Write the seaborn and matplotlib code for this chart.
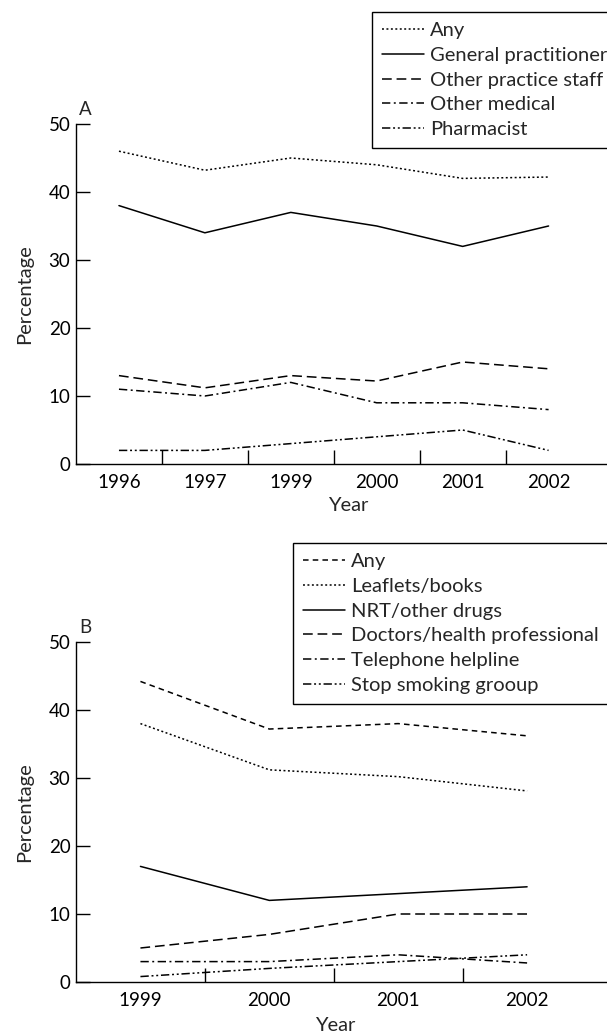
import numpy as np
import pandas as pd
import matplotlib
matplotlib.use("Agg")
import matplotlib.pyplot as plt
import seaborn as sns

# ==========================================
# DATA
# ==========================================
years_a = ["1996", "1997", "1999", "2000", "2001", "2002"]
any_a = [46, 43.2, 45, 44, 42, 42.2]
gp_a = [38, 34, 37, 35, 32, 35]
practice_staff_a = [13, 11.2, 13, 12.2, 15, 14]
other_medical_a = [11, 10, 12, 9, 9, 8]
pharmacist_a = [2, 2, 3, 4, 5, 2]

years_b = ["1999", "2000", "2001", "2002"]
any_b = [44.2, 37.2, 38, 36.2]
leaflets_b = [38, 31.2, 30.2, 28.1]
nrt_b = [17, 12, 13, 14]
doctors_b = [5, 7, 10, 10]
telephone_b = [3, 3, 4, 2.8]
group_b = [0.8, 2, 3, 4]

series_a = {
    "Any": any_a,
    "General practitioner": gp_a,
    "Other practice staff": practice_staff_a,
    "Other medical": other_medical_a,
    "Pharmacist": pharmacist_a,
}
series_b = {
    "Any": any_b,
    "Leaflets/books": leaflets_b,
    "NRT/other drugs": nrt_b,
    "Doctors/health professional": doctors_b,
    "Telephone helpline": telephone_b,
    "Stop smoking grooup": group_b,
}

# dash patterns (points, unscaled)
DOT = (1.4, 1.8)
SOLID = ""
LONG = (7, 3.5)
SHORT = (4, 3)
DASHDOT = (6, 2.5, 1.4, 2.5)
DASHDOTDOT = (6, 2, 1.4, 2, 1.4, 2)

dashes_a = [DOT, SOLID, LONG, DASHDOT, DASHDOTDOT]
dashes_b = [SHORT, DOT, SOLID, LONG, DASHDOT, DASHDOTDOT]

W, H = 607, 1034


def to_long(years, series):
    frames = [pd.DataFrame({"year": years, "value": v, "source": k}) for k, v in series.items()]
    return pd.concat(frames, ignore_index=True)


sns.set_theme(style="ticks")
plt.rcParams["font.family"] = ["Lato", "DejaVu Sans"]
plt.rcParams["lines.scale_dashes"] = False
plt.rcParams["lines.linewidth"] = 1.1
plt.rcParams["axes.linewidth"] = 1.0

fig = plt.figure(figsize=(W / 100, H / 100), dpi=100)


def panel(top_px, years, series, dash_list, tag, legend_xy, year_xy, xmax):
    bottom_px = top_px + 340
    ax = fig.add_axes([76 / W, 1 - bottom_px / H, (W - 76) / W, 340 / H])
    df = to_long(years, series)
    names = list(series.keys())
    sns.lineplot(data=df, x="year", y="value", hue="source", style="source",
                 palette={n: "black" for n in names},
                 dashes=dict(zip(names, dash_list)),
                 sort=False, linewidth=1.1, ax=ax)
    ax.set_ylim(0, 50)
    ax.set_xlim(-0.5, xmax)
    ax.set_yticks([0, 10, 20, 30, 40, 50])
    ax.set_xticks(np.arange(len(years)))
    ax.set_xticklabels(years)
    ax.set_xticks(np.arange(len(years) - 1) + 0.5, minor=True)
    ax.tick_params(axis="y", direction="in", length=10, width=1.0, pad=4,
                   labelsize=13.5, colors="black")
    ax.tick_params(axis="x", which="major", length=0, pad=7, labelsize=13.5, colors="black")
    ax.tick_params(axis="x", which="minor", direction="in", length=10, width=1.0, color="black")
    sns.despine(ax=ax)
    ax.spines["left"].set_color("black")
    ax.spines["bottom"].set_color("black")
    ax.set_ylabel("Percentage", fontsize=14.5)
    ax.yaxis.set_label_coords(-0.081, 0.5)
    ax.set_xlabel("Year", fontsize=14.5)
    ax.xaxis.set_label_coords(*year_xy)
    fig.text(79 / W, 1 - (top_px - 6) / H, tag, fontsize=13.5, va="bottom", ha="left")
    sns.move_legend(ax, loc="upper left", bbox_to_anchor=legend_xy,
                    bbox_transform=fig.transFigure, title=None, frameon=True,
                    fancybox=False, edgecolor="black", framealpha=1,
                    borderaxespad=0, fontsize=14.5, handlelength=2.1,
                    handletextpad=0.3, labelspacing=0.38, borderpad=0.5)
    ax.get_legend().get_frame().set_linewidth(1.0)
    return ax


panel(124, years_a, series_a, dashes_a, "A",
      (372 / W, 1 - 12 / H), ((348 - 76) / 531, -0.097), 5.68)
panel(642, years_b, series_b, dashes_b, "B",
      (293 / W, 1 - 543 / H), ((335 - 76) / 531, -0.103), 3.62)

fig.savefig("out.png", dpi=100)
